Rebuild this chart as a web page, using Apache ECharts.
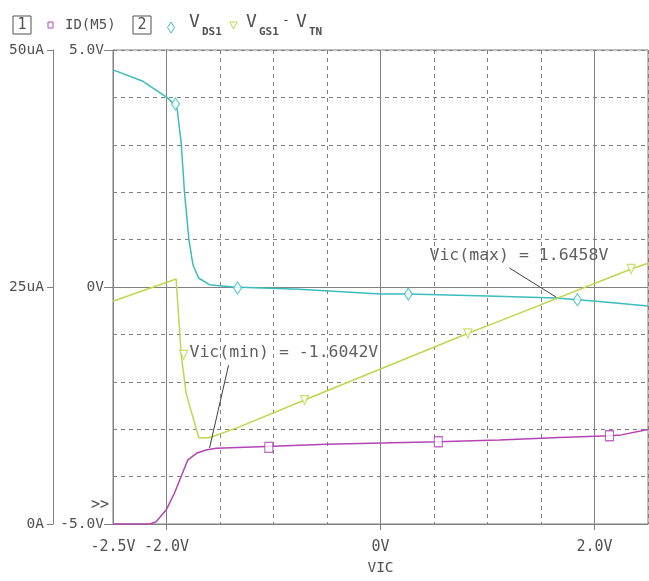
<!DOCTYPE html>
<html>
<head>
<meta charset="utf-8">
<script src="https://cdn.jsdelivr.net/npm/echarts@6/dist/echarts.min.js"></script>
<style>
html,body{margin:0;padding:0;background:#fff;}
#chart{width:649px;height:581px;}
</style>
</head>
<body>
<div id="chart"></div>
<script>
// ID(M5) in uA (outer axis)
const idX = [-2.5, -2.16, -2.10, -2.0, -1.925, -1.863, -1.80, -1.72, -1.63, -1.535, -1.13, -0.5, 0.54, 1.11, 1.67, 2.14, 2.25, 2.5];
const idY = [0, 0, 0.21, 1.54, 3.27, 5.02, 6.77, 7.46, 7.81, 7.98, 8.16, 8.4, 8.68, 8.86, 9.13, 9.31, 9.4, 9.97];
// V_DS1 in V
const vdsX = [-2.5, -2.22, -1.99, -1.93, -1.9, -1.88, -1.863, -1.832, -1.79, -1.753, -1.70, -1.60, -1.38, -0.76, 0.0, 0.26, 1.0, 1.64, 2.02, 2.5];
const vdsY = [4.58, 4.34, 3.99, 3.86, 3.75, 3.36, 3.05, 2.0, 0.99, 0.47, 0.19, 0.05, 0.0, -0.05, -0.15, -0.15, -0.19, -0.23, -0.30, -0.40];
// V_GS1 - V_TN in V
const vgsX = [-2.5, -1.91, -1.895, -1.863, -1.816, -1.698, -1.598, -1.318, -0.71, 0.813, 1.112, 2.343, 2.5];
const vgsY = [-0.30, 0.17, 0.17, -1.42, -2.25, -3.18, -3.18, -2.95, -2.385, -0.98, -0.72, 0.38, 0.50];

// trace markers
const idMarkX = [-1.044, 0.54, 2.14];
const idMarkY = [8.09, 8.68, 9.31];
const vdsMarkX = [-1.916, -1.336, 0.26, 1.84];
const vdsMarkY = [3.86, -0.02, -0.15, -0.27];
const vgsMarkX = [-1.84, -0.71, 0.816, 2.343];
const vgsMarkY = [-1.43, -2.385, -0.98, 0.38];

// tick labels
const xTickVals = [-2.5, -2.0, 0, 2.0];
const xTickText = ['-2.5V', '-2.0V', '0V', '2.0V'];
const vTickVals = [-5, 0, 5];
const vTickText = ['-5.0V', '0V', '5.0V'];
const iTickVals = [0, 25, 50];
const iTickText = ['0A', '25uA', '50uA'];

// cursor annotations
const annoText = ['Vic(min) = -1.6042V', 'Vic(max) = 1.6458V'];
const annoTextAt = [[-1.785, -1.38], [0.458, 0.65]];
const annoFrom = [[-1.42, -1.65], [1.206, 0.40]];
const annoTo = [[-1.598, -3.40], [1.642, -0.215]];

const PURPLE = '#b444b4', CYAN = '#3cbcbc', YG = '#bcd84c';
const GRAY = '#808080', TXT = '#505050';
const MONO = '"DejaVu Sans Mono", "Liberation Mono", monospace';

function zip(xs, ys) { return xs.map((x, i) => [x, ys[i]]); }
function pick(vals, texts) { return v => { const i = vals.findIndex(t => Math.abs(t - v) < 1e-6); return i < 0 ? '' : texts[i]; }; }

let chart = echarts.init(document.getElementById('chart'));

const dashed = { show: true, lineStyle: { color: GRAY, type: [4, 4], width: 1 } };
const hidden = { axisLine: { show: false, onZero: false }, axisTick: { show: false }, axisLabel: { show: false } };
const solidAxis = { show: true, onZero: false, lineStyle: { color: GRAY } };

chart.setOption({
  animation: false,
  backgroundColor: '#fff',
  grid: { left: 113, right: 1, top: 50, bottom: 53, show: true, borderColor: GRAY, borderWidth: 1 },
  xAxis: [{
    type: 'value', min: -2.5, max: 2.5,
    name: 'VIC', nameLocation: 'middle', nameGap: 37,
    nameTextStyle: { fontFamily: MONO, fontSize: 14.5, color: TXT },
    axisLine: solidAxis,
    axisTick: { show: true, customValues: [-2, 0, 2], length: 6, lineStyle: { color: GRAY } },
    axisLabel: { customValues: xTickVals, formatter: pick(xTickVals, xTickText), fontFamily: MONO, fontSize: 15, color: TXT, margin: 16 },
    splitLine: { show: false }
  }, Object.assign({
    // dashed grid every 0.5 V
    type: 'value', min: -2.5, max: 2.5, interval: 0.5, position: 'bottom',
    splitLine: dashed
  }, hidden)],
  yAxis: [{
    type: 'value', min: -5, max: 5, position: 'left',
    axisLine: solidAxis,
    axisTick: { show: true, customValues: vTickVals, length: 9, lineStyle: { color: GRAY } },
    axisLabel: { customValues: vTickVals, formatter: pick(vTickVals, vTickText), fontFamily: MONO, fontSize: 14.5, color: TXT, margin: 9 },
    splitLine: { show: false }
  }, {
    type: 'value', min: 0, max: 50, position: 'left', offset: 60,
    axisLine: solidAxis,
    axisTick: { show: true, customValues: iTickVals, length: 6, lineStyle: { color: GRAY } },
    axisLabel: { customValues: iTickVals, formatter: pick(iTickVals, iTickText), fontFamily: MONO, fontSize: 14.5, color: TXT, margin: 9 },
    splitLine: { show: false }
  }, Object.assign({
    // dashed grid every 1 V
    type: 'value', min: -5, max: 5, interval: 1, position: 'right',
    splitLine: dashed
  }, hidden)],
  graphic: [
    { type: 'rect', shape: { x: 13, y: 16, width: 18, height: 18 }, style: { fill: 'none', stroke: TXT, lineWidth: 1 } },
    { type: 'text', x: 22, y: 25.5, style: { text: '1', font: '15px ' + MONO, fill: TXT, align: 'center', verticalAlign: 'middle' } },
    { type: 'rect', shape: { x: 48, y: 22, width: 5, height: 6 }, style: { fill: 'none', stroke: PURPLE, lineWidth: 1 } },
    { type: 'text', x: 65, y: 25.5, style: { text: 'ID(M5)', font: '14px ' + MONO, fill: TXT, verticalAlign: 'middle' } },
    { type: 'rect', shape: { x: 133, y: 16, width: 18, height: 18 }, style: { fill: 'none', stroke: TXT, lineWidth: 1 } },
    { type: 'text', x: 142, y: 25.5, style: { text: '2', font: '15px ' + MONO, fill: TXT, align: 'center', verticalAlign: 'middle' } },
    { type: 'polygon', shape: { points: [[171, 22], [174.5, 27.5], [171, 33], [167.5, 27.5]] }, style: { fill: 'none', stroke: CYAN, lineWidth: 1 } },
    { type: 'text', x: 189, y: 22, style: { text: 'V', font: '18px ' + MONO, fill: TXT, verticalAlign: 'middle' } },
    { type: 'text', x: 202, y: 32.5, style: { text: 'DS1', font: 'bold 11px ' + MONO, fill: TXT, verticalAlign: 'middle' } },
    { type: 'polygon', shape: { points: [[230, 22], [237, 22], [233.5, 29]] }, style: { fill: 'none', stroke: YG, lineWidth: 1 } },
    { type: 'text', x: 246, y: 22, style: { text: 'V', font: '18px ' + MONO, fill: TXT, verticalAlign: 'middle' } },
    { type: 'text', x: 259, y: 32.5, style: { text: 'GS1', font: 'bold 11px ' + MONO, fill: TXT, verticalAlign: 'middle' } },
    { type: 'text', x: 282, y: 21, style: { text: '-', font: '13px ' + MONO, fill: TXT, verticalAlign: 'middle' } },
    { type: 'text', x: 296, y: 22, style: { text: 'V', font: '18px ' + MONO, fill: TXT, verticalAlign: 'middle' } },
    { type: 'text', x: 309, y: 32.5, style: { text: 'TN', font: 'bold 11px ' + MONO, fill: TXT, verticalAlign: 'middle' } },
    { type: 'text', x: 91, y: 505, style: { text: '>>', font: '15px ' + MONO, fill: TXT, verticalAlign: 'middle' } }
  ],
  series: [
    {
      name: 'ID(M5)', type: 'line', yAxisIndex: 1, data: zip(idX, idY),
      symbol: 'none', lineStyle: { color: PURPLE, width: 1.5 }, z: 3
    },
    {
      name: 'V_DS1', type: 'line', yAxisIndex: 0, data: zip(vdsX, vdsY),
      symbol: 'none', lineStyle: { color: CYAN, width: 1.5 }, z: 3,
      markLine: {
        silent: true, symbol: 'none', z: 1, label: { show: false },
        lineStyle: { color: GRAY, type: 'solid', width: 1 },
        data: [{ xAxis: -2 }, { xAxis: 0 }, { xAxis: 2 }, { yAxis: 0 }]
      }
    },
    {
      name: 'V_GS1 - V_TN', type: 'line', yAxisIndex: 0, data: zip(vgsX, vgsY),
      symbol: 'none', lineStyle: { color: YG, width: 1.5 }, z: 3,
      markLine: {
        silent: true, symbol: 'none', label: { show: false },
        lineStyle: { color: '#404040', type: 'solid', width: 1 },
        data: annoFrom.map((p, i) => [{ coord: p }, { coord: annoTo[i] }])
      },
      markPoint: {
        silent: true, symbol: 'circle', symbolSize: 0,
        label: { show: true, position: 'right', distance: 0, fontFamily: MONO, fontSize: 16.5, color: '#606060' },
        data: annoTextAt.map((p, i) => ({ coord: p, label: { formatter: annoText[i] } }))
      }
    },
    {
      type: 'scatter', yAxisIndex: 1, data: zip(idMarkX, idMarkY), z: 4,
      symbol: 'rect', symbolSize: [8, 10],
      itemStyle: { color: '#fff', borderColor: PURPLE, borderWidth: 1.2 }
    },
    {
      type: 'scatter', yAxisIndex: 0, data: zip(vdsMarkX, vdsMarkY), z: 4,
      symbol: 'diamond', symbolSize: [8, 12],
      itemStyle: { color: '#fff', borderColor: CYAN, borderWidth: 1.2 }
    },
    {
      type: 'scatter', yAxisIndex: 0, data: zip(vgsMarkX, vgsMarkY), z: 4,
      symbol: 'triangle', symbolRotate: 180, symbolSize: [8, 9],
      itemStyle: { color: '#fff', borderColor: YG, borderWidth: 1.2 }
    }
  ]
});
</script>
</body>
</html>
